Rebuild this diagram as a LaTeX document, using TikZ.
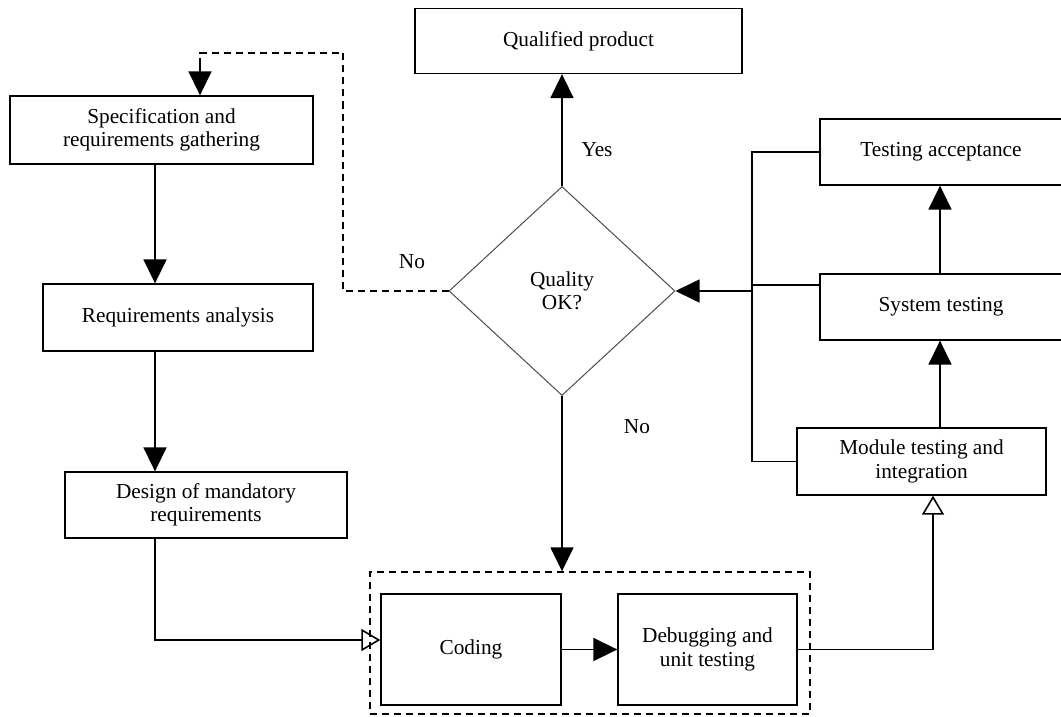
\documentclass[tikz,border=0pt]{standalone}
\usepackage{fontspec}
\setmainfont{Liberation Serif}
\usetikzlibrary{arrows.meta,shapes.geometric}
\begin{document}
\begin{tikzpicture}[x=1pt,y=-1pt,
  font=\fontsize{21.3}{23.5}\selectfont,
  box/.style={draw,line width=1.3pt,rectangle,inner sep=0pt,align=center},
  line/.style={line width=1.6pt},
  solidtip/.style={line,-{Triangle[length=24pt,width=23pt]}},
  opentip/.style={line,-{Triangle[open,length=19pt,width=22pt]}},
  dashline/.style={line width=1.4pt,dash pattern=on 7pt off 5pt},
  lbl/.style={inner sep=0pt}]
\useasboundingbox (0,0) rectangle (1061,717);

% process boxes
\node[box,minimum width=327pt,minimum height=65pt] (qual) at (578.5,41) {Qualified product};
\node[box,minimum width=303pt,minimum height=68pt] (spec) at (161.5,130) {Specification and\\requirements gathering};
\node[box,minimum width=270pt,minimum height=67pt] (anal) at (178,317.5) {Requirements analysis};
\node[box,minimum width=282pt,minimum height=66pt] (design) at (206,505) {Design of mandatory\\requirements};
\node[box,minimum width=242pt,minimum height=66pt] (accept) at (941,152) {Testing acceptance};
\node[box,minimum width=242pt,minimum height=66pt] (system) at (941,307) {System testing};
\node[box,minimum width=249pt,minimum height=67pt] (module) at (921.5,461.5) {Module testing and\\integration};
\node[box,minimum width=180pt,minimum height=111pt] (coding) at (471,649.5) {Coding};
\node[box,minimum width=179pt,minimum height=111pt] (debug) at (707.5,649.5) {Debugging and\\unit testing};

% development group
\node[draw,dashline,rectangle,inner sep=0pt,minimum width=440pt,minimum height=142pt] (dev) at (590,643) {};

% decision
\node[draw,diamond,line width=1pt,draw=black!70,inner sep=0pt,aspect=1.08,
      minimum width=226pt,minimum height=209pt,align=center] (quality) at (562,291) {Quality\\OK?};

% requirements chain
\draw[solidtip] (spec.south -| 155,0) -- (anal.north -| 155,0);
\draw[solidtip] (anal.south -| 155,0) -- (design.north -| 155,0);
\draw[opentip] (design.south -| 155,0) |- ([yshift=9.5pt]coding.west);

% development chain
\draw[solidtip] (coding.east) -- (debug.west);
\draw[opentip] (debug.east) -| ([xshift=11.5pt]module.south);

% testing chain
\draw[solidtip] ([xshift=18.5pt]module.north) -- ([xshift=-1pt]system.south);
\draw[solidtip] ([xshift=-1pt]system.north) -- ([xshift=-1pt]accept.south);

% collecting bus into the decision
\coordinate (busTop) at (752,152);
\coordinate (busBot) at (752,461.5);
\draw[line] (accept.west) -- (busTop) -- (busBot) -- (module.west);
\draw[line] ([yshift=22pt]system.west) -- (752,285);
\draw[solidtip] (quality.east -| busTop) -- (quality.east);

% decision outcomes
\draw[solidtip] (quality.north) -- (quality.north |- qual.south);
\node[lbl] (yes) at (597,150) {Yes};
\draw[solidtip] (quality.south) -- (quality.south |- dev.north);
\node[lbl] (no1) at (637,427) {No};
\coordinate (fbA) at (343,291);
\coordinate (fbB) at (343,53);
\coordinate (fbC) at (200,53);
\draw[dashline] (quality.west) -- (fbA) -- (fbB) -- (fbC) -- ([yshift=-6pt]fbC);
\draw[solidtip] ([yshift=-5pt]fbC) -- (spec.north -| fbC);
\node[lbl] (no2) at (412,262) {No};
\end{tikzpicture}
\end{document}
